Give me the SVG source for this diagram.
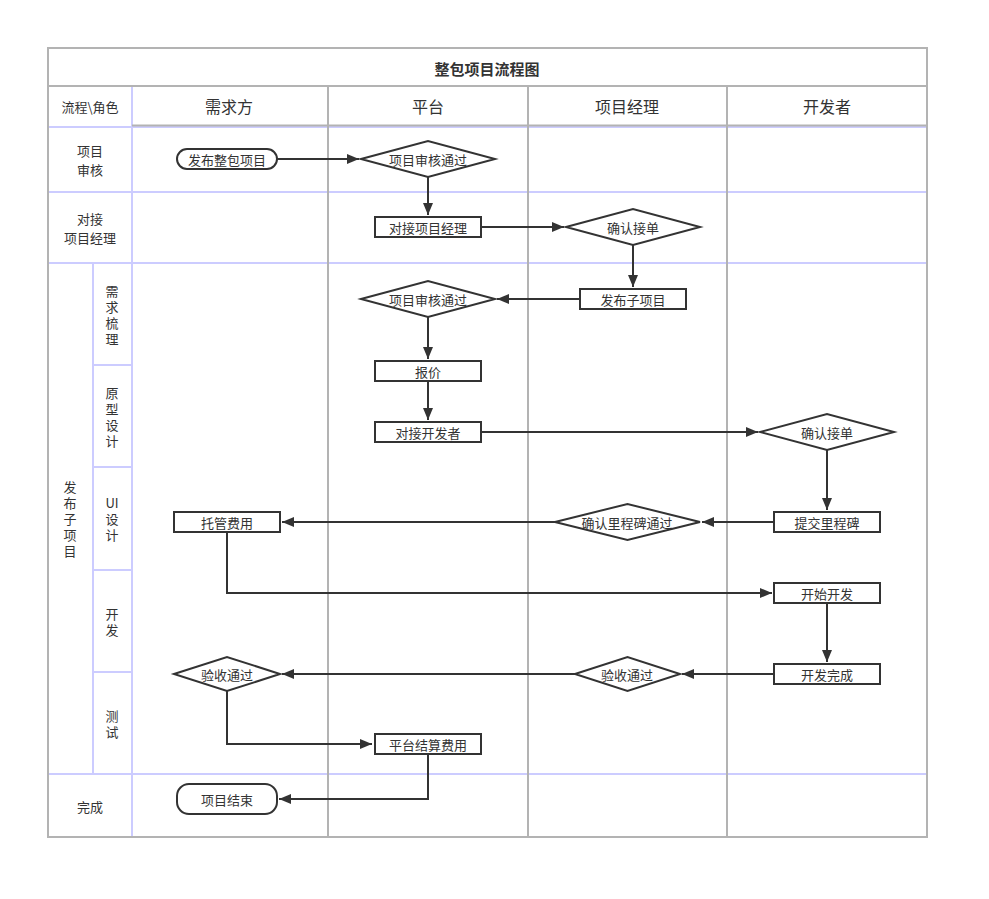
<svg xmlns="http://www.w3.org/2000/svg" width="989" height="899" viewBox="0 0 989 899">
<style>
text{font-family:"Noto Sans CJK SC","Liberation Sans",sans-serif;fill:#333;text-anchor:middle;dominant-baseline:central}
.t{font-size:13px}
.v{font-size:13px;writing-mode:vertical-rl;letter-spacing:3px}
.h{font-size:16px}
.title{font-size:15px;font-weight:bold}
.g{stroke:#b3b3b3;stroke-width:2;fill:none}
.p{stroke:#ccccff;stroke-width:2;fill:none}
.n{fill:#fff;stroke:#333;stroke-width:2}
.c{stroke:#333;stroke-width:2;fill:none;marker-end:url(#ar)}
</style>
<defs>
<marker id="ar" markerWidth="12" markerHeight="10" refX="12" refY="5" orient="auto" markerUnits="userSpaceOnUse">
<path d="M0,0 L12,5 L0,10 Z" fill="#333"/>
</marker>
</defs>
<rect width="989" height="899" fill="#fff"/>
<g id="grid">
<line class="p" x1="48" y1="127" x2="927" y2="127"/>
<line class="p" x1="48" y1="192" x2="927" y2="192"/>
<line class="p" x1="48" y1="263" x2="927" y2="263"/>
<line class="p" x1="48" y1="774" x2="927" y2="774"/>
<line class="p" x1="93" y1="365" x2="132" y2="365"/>
<line class="p" x1="93" y1="467" x2="132" y2="467"/>
<line class="p" x1="93" y1="570" x2="132" y2="570"/>
<line class="p" x1="93" y1="672" x2="132" y2="672"/>
<line class="p" x1="48" y1="86" x2="48" y2="837"/>
<line class="p" x1="132" y1="86" x2="132" y2="837"/>
<line class="p" x1="93" y1="263" x2="93" y2="774"/>
<line class="g" x1="328" y1="86" x2="328" y2="837"/>
<line class="g" x1="528" y1="86" x2="528" y2="837"/>
<line class="g" x1="727" y1="86" x2="727" y2="837"/>
<line class="g" x1="132" y1="125.5" x2="927" y2="125.5"/>
<line class="g" x1="48" y1="86" x2="927" y2="86"/>
<rect class="g" x="48" y="48" width="879" height="789"/>
</g>
<g id="labels">
<text class="title" x="487" y="68">整包项目流程图</text>
<text class="t" x="90" y="106">流程\角色</text>
<text class="h" x="229" y="106">需求方</text>
<text class="h" x="428" y="106">平台</text>
<text class="h" x="627" y="106">项目经理</text>
<text class="h" x="827" y="106">开发者</text>
<text class="t" x="90" y="150.5">项目</text>
<text class="t" x="90" y="169.5">审核</text>
<text class="t" x="90" y="218.5">对接</text>
<text class="t" x="90" y="237.5">项目经理</text>
<text class="t" x="90" y="806">完成</text>
<text class="v" x="70" y="520.5">发布子项目</text>
<text class="v" x="112" y="316.5">需求梳理</text>
<text class="v" x="112" y="418.5">原型设计</text>
<text class="t" x="112" y="502">UI</text>
<text class="v" x="112" y="528.5">设计</text>
<text class="v" x="112" y="623.5">开发</text>
<text class="v" x="112" y="725.5">测试</text>
</g>
<g id="connectors">
<path class="c" d="M277,159 H359"/>
<path class="c" d="M428,177 V215"/>
<path class="c" d="M481,227 H564"/>
<path class="c" d="M633,245 V287"/>
<path class="c" d="M580,299 H497"/>
<path class="c" d="M428,317 V359"/>
<path class="c" d="M428,381 V420"/>
<path class="c" d="M481,432 H758"/>
<path class="c" d="M827,450 V510"/>
<path class="c" d="M774,522 H702"/>
<path class="c" d="M555,522 H282"/>
<path class="c" d="M227,532 V593 H772"/>
<path class="c" d="M827,603 V662"/>
<path class="c" d="M774,674 H682"/>
<path class="c" d="M575,674 H282"/>
<path class="c" d="M227,691 V744 H372"/>
<path class="c" d="M428,754 V799 H279"/>
</g>
<g id="n1"><rect class="n" x="177" y="149" width="100" height="20" rx="10"/><text class="t" x="227" y="159">发布整包项目</text></g>
<g id="n2"><polygon class="n" points="361,159 428,141 495,159 428,177"/><text class="t" x="428" y="159">项目审核通过</text></g>
<g id="n3"><rect class="n" x="375" y="217" width="106" height="20"/><text class="t" x="428" y="227">对接项目经理</text></g>
<g id="n4"><polygon class="n" points="566,227 633,209 700,227 633,245"/><text class="t" x="633" y="227">确认接单</text></g>
<g id="n5"><rect class="n" x="580" y="289" width="106" height="20"/><text class="t" x="633" y="299">发布子项目</text></g>
<g id="n6"><polygon class="n" points="361,299 428,281 495,299 428,317"/><text class="t" x="428" y="299">项目审核通过</text></g>
<g id="n7"><rect class="n" x="375" y="361" width="106" height="20"/><text class="t" x="428" y="371">报价</text></g>
<g id="n8"><rect class="n" x="375" y="422" width="106" height="20"/><text class="t" x="428" y="432">对接开发者</text></g>
<g id="n9"><polygon class="n" points="760,432 827,414 894,432 827,450"/><text class="t" x="827" y="432">确认接单</text></g>
<g id="n10"><rect class="n" x="774" y="512" width="106" height="20"/><text class="t" x="827" y="522">提交里程碑</text></g>
<g id="n11"><polygon class="n" points="555,522 627.5,504 700,522 627.5,540"/><text class="t" x="627" y="522">确认里程碑通过</text></g>
<g id="n12"><rect class="n" x="174" y="512" width="106" height="20"/><text class="t" x="227" y="522">托管费用</text></g>
<g id="n13"><rect class="n" x="774" y="583" width="106" height="20"/><text class="t" x="827" y="593">开始开发</text></g>
<g id="n14"><rect class="n" x="774" y="664" width="106" height="20"/><text class="t" x="827" y="674">开发完成</text></g>
<g id="n15"><polygon class="n" points="575,674 627.5,657 680,674 627.5,691"/><text class="t" x="627" y="674">验收通过</text></g>
<g id="n16"><polygon class="n" points="174,674 227,657 280,674 227,691"/><text class="t" x="227" y="674">验收通过</text></g>
<g id="n17"><rect class="n" x="375" y="734" width="106" height="20"/><text class="t" x="428" y="744">平台结算费用</text></g>
<g id="n18"><rect class="n" x="177" y="784" width="100" height="30" rx="12"/><text class="t" x="227" y="799">项目结束</text></g>
</svg>
